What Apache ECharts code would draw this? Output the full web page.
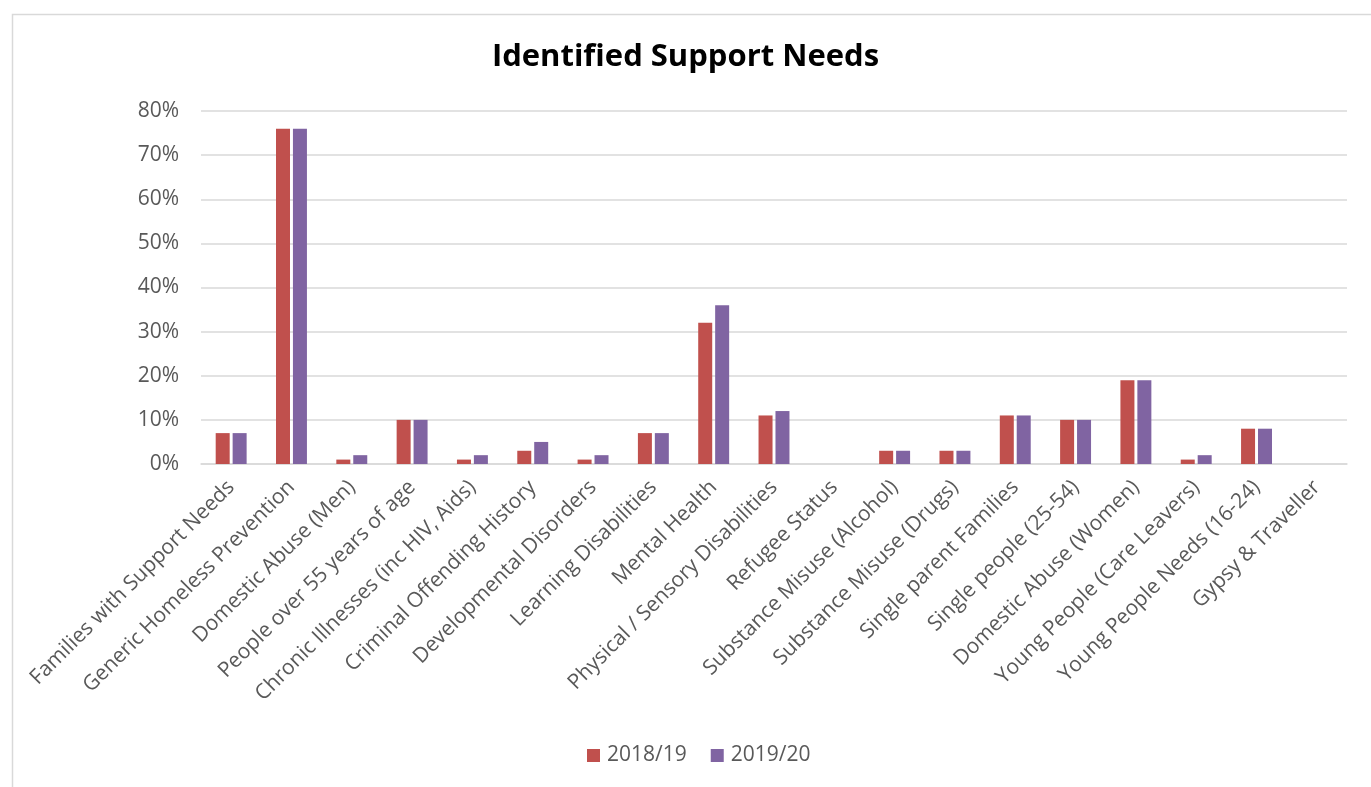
<!DOCTYPE html>
<html>
<head>
<meta charset="utf-8">
<script src="https://cdn.jsdelivr.net/npm/echarts@6/dist/echarts.min.js"></script>
<style>
html,body{margin:0;padding:0;background:#fff;}
#chart{width:1371px;height:787px;}
</style>
</head>
<body>
<div id="chart"></div>
<script>
var categories = [
  "Families with Support Needs",
  "Generic Homeless Prevention",
  "Domestic Abuse (Men)",
  "People over 55 years of age",
  "Chronic Illnesses (inc HIV, Aids)",
  "Criminal Offending History",
  "Developmental Disorders",
  "Learning Disabilities",
  "Mental Health",
  "Physical / Sensory Disabilities",
  "Refugee Status",
  "Substance Misuse (Alcohol)",
  "Substance Misuse (Drugs)",
  "Single parent Families",
  "Single people (25-54)",
  "Domestic Abuse (Women)",
  "Young People (Care Leavers)",
  "Young People Needs (16-24)",
  "Gypsy & Traveller"
];
var seriesNames = ["2018/19", "2019/20"];
var values2018 = [7, 76, 1, 10, 1, 3, 1, 7, 32, 11, 0, 3, 3, 11, 10, 19, 1, 8, 0];
var values2019 = [7, 76, 2, 10, 2, 5, 2, 7, 36, 12, 0, 3, 3, 11, 10, 19, 2, 8, 0];
var yTicks = [0, 10, 20, 30, 40, 50, 60, 70, 80];

var FONT = "Open Sans";
var chart = echarts.init(document.getElementById('chart'), null, {renderer: 'canvas'});
chart.setOption({
  backgroundColor: '#ffffff',
  animation: false,
  textStyle: {fontFamily: FONT},
  graphic: [{
    type: 'rect',
    left: 10, top: 12,
    shape: {width: 1400, height: 800},
    style: {fill: 'none', stroke: '#d9d9d9', lineWidth: 1.5},
    z: -10
  }],
  title: {
    text: 'Identified Support Needs',
    left: 'center',
    top: 37,
    textStyle: {fontFamily: FONT, fontWeight: 'bold', fontSize: 31, color: '#000000'}
  },
  legend: {
    data: seriesNames,
    bottom: 16,
    left: 582,
    itemWidth: 13,
    itemHeight: 13,
    itemGap: 24,
    icon: 'rect',
    textStyle: {fontFamily: FONT, fontSize: 21, color: '#595959', padding: [0, 0, 0, 2]}
  },
  grid: {left: 201, right: 24, top: 111, bottom: 323, containLabel: false},
  xAxis: {
    type: 'category',
    data: categories,
    axisTick: {show: false},
    axisLine: {show: true, lineStyle: {color: '#d9d9d9', width: 1.5}},
    axisLabel: {
      interval: 0,
      rotate: 45,
      margin: 20,
      fontFamily: FONT,
      fontSize: 21,
      color: '#595959'
    }
  },
  yAxis: {
    type: 'value',
    min: 0,
    max: 80,
    interval: 10,
    axisLine: {show: false},
    axisTick: {show: false},
    splitLine: {lineStyle: {color: '#d9d9d9', width: 1.5}},
    axisLabel: {
      formatter: function (v) { return yTicks.indexOf(v) >= 0 ? v + '%' : ''; },
      fontFamily: FONT,
      fontSize: 21,
      color: '#595959',
      margin: 22
    }
  },
  series: [
    {name: seriesNames[0], type: 'bar', data: values2018, barWidth: 14, barGap: '21%',
     itemStyle: {color: '#C0504D'}},
    {name: seriesNames[1], type: 'bar', data: values2019, barWidth: 14, barGap: '21%',
     itemStyle: {color: '#8064A2'}}
  ]
});
</script>
</body>
</html>
